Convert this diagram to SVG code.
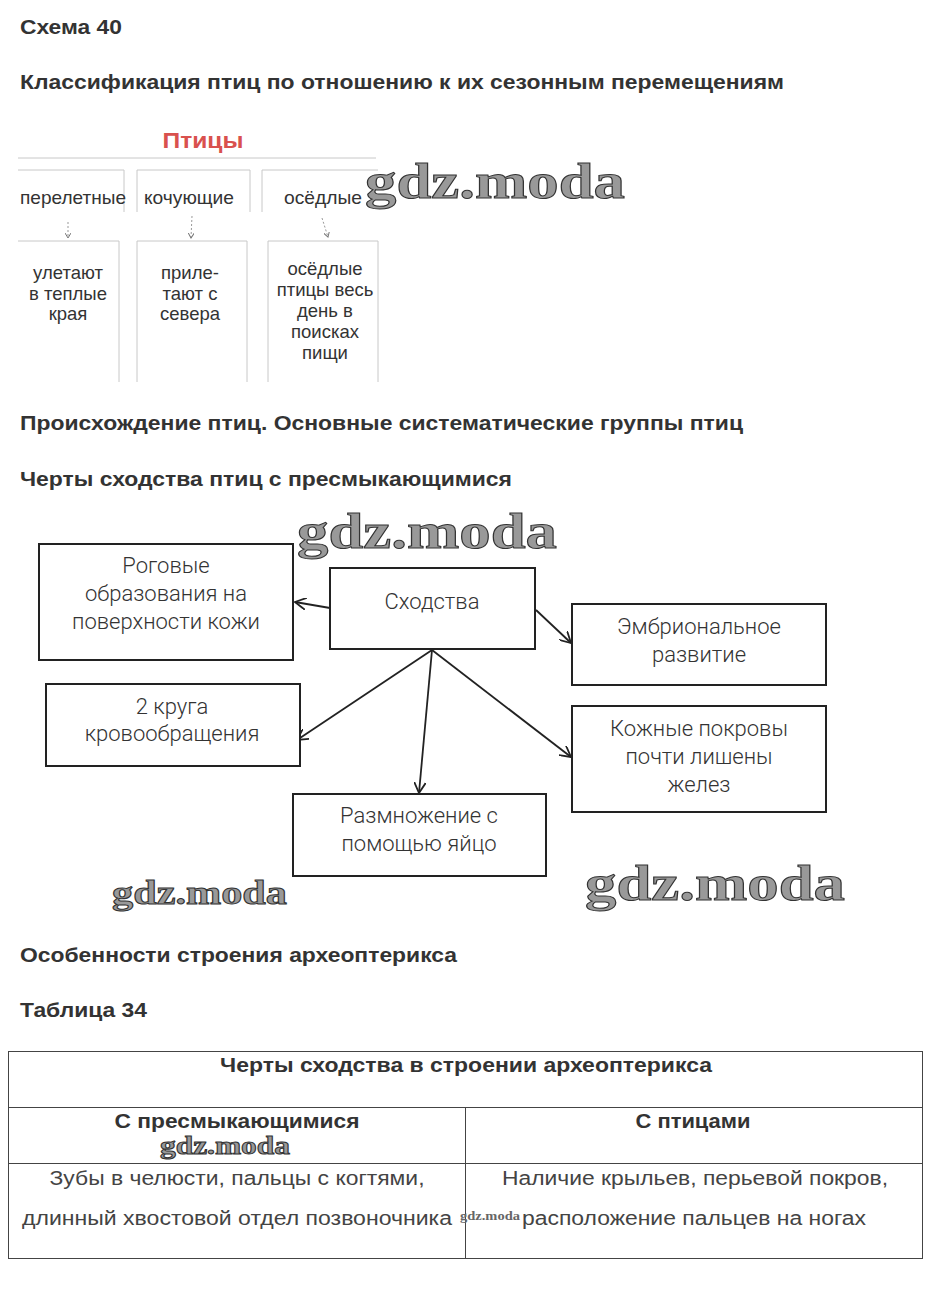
<svg xmlns="http://www.w3.org/2000/svg" width="933" height="1303" viewBox="0 0 933 1303">
<defs>
<style>
.h{font-family:"Liberation Sans",Arial,sans-serif;font-weight:bold;font-size:20px;fill:#333}
.t1{font-family:"Liberation Sans",Arial,sans-serif;font-size:18.5px;fill:#333;text-anchor:middle}
.t2{font-family:Roboto,"Liberation Sans",sans-serif;font-weight:300;font-size:22px;fill:#333;text-anchor:middle}
.t3{font-family:"Liberation Sans",Arial,sans-serif;font-size:20px;fill:#444;text-anchor:middle}
.tb{font-family:"Liberation Sans",Arial,sans-serif;font-weight:bold;font-size:20px;fill:#333;text-anchor:middle}
.gl{stroke:#c8c8c8;stroke-width:1;fill:none}
.box{fill:#fff;stroke:#222;stroke-width:2}
.con{stroke:#222;stroke-width:1.8;fill:none;marker-end:url(#ar)}
.dot{stroke:#999;stroke-width:1;stroke-dasharray:2 2;fill:none;marker-end:url(#sar)}
.tl{stroke:#444;stroke-width:1;fill:none}
.wm{font-family:"Liberation Serif","Times New Roman",serif;font-weight:bold;fill:#999;stroke:#333;stroke-width:1}
</style>
<marker id="ar" viewBox="0 0 12 12" refX="11" refY="6" markerWidth="12" markerHeight="12" markerUnits="userSpaceOnUse" orient="auto">
<path d="M0,0 L11,6 L0,12" fill="none" stroke="#222" stroke-width="1.8"/>
</marker>
<marker id="sar" viewBox="0 0 6 6" refX="5" refY="3" markerWidth="6" markerHeight="6" markerUnits="userSpaceOnUse" orient="auto">
<path d="M0,0 L5,3 L0,6" fill="none" stroke="#777" stroke-width="1"/>
</marker>
</defs>
<rect width="933" height="1303" fill="#fff"/>

<text class="h" x="20" y="34" textLength="102" lengthAdjust="spacingAndGlyphs">Схема 40</text>
<text class="h" x="20" y="89" textLength="764" lengthAdjust="spacingAndGlyphs">Классификация птиц по отношению к их сезонным перемещениям</text>

<g id="root-birds">
<text x="203" y="148" text-anchor="middle" font-family="Liberation Sans,Arial,sans-serif" font-weight="bold" font-size="22" fill="#d9514e" textLength="81" lengthAdjust="spacingAndGlyphs">Птицы</text>
<line class="gl" x1="18" y1="158" x2="376" y2="158"/>
</g>
<g id="migratory">
<path class="gl" d="M18,170 H124 V212"/>
<text class="t1" x="73" y="204" textLength="106" lengthAdjust="spacingAndGlyphs">перелетные</text>
</g>
<g id="nomadic">
<path class="gl" d="M137,212 V170 H250 V212"/>
<text class="t1" x="189" y="204" textLength="90" lengthAdjust="spacingAndGlyphs">кочующие</text>
</g>
<g id="sedentary">
<path class="gl" d="M262,212 V170 H378"/>
<text class="t1" x="323" y="204" textLength="78" lengthAdjust="spacingAndGlyphs">осёдлые</text>
</g>
<g id="migratory-desc">
<path class="gl" d="M18,241 H119 V382"/>
<text class="t1" x="68" y="279">улетают</text>
<text class="t1" x="68" y="300">в теплые</text>
<text class="t1" x="68" y="320">края</text>
</g>
<g id="nomadic-desc">
<path class="gl" d="M137,382 V241 H247 V382"/>
<text class="t1" x="190" y="279">приле-</text>
<text class="t1" x="190" y="300">тают с</text>
<text class="t1" x="190" y="320">севера</text>
</g>
<g id="sedentary-desc">
<path class="gl" d="M268,382 V241 H378 V382"/>
<text class="t1" x="325" y="275">осёдлые</text>
<text class="t1" x="325" y="296">птицы весь</text>
<text class="t1" x="325" y="317">день в</text>
<text class="t1" x="325" y="338">поисках</text>
<text class="t1" x="325" y="359">пищи</text>
</g>
<g id="top-connectors">
<line class="dot" x1="68" y1="222" x2="68" y2="238"/>
<line class="dot" x1="192" y1="216" x2="191" y2="238"/>
<line class="dot" x1="322" y1="218" x2="328" y2="237"/>
</g>

<text class="h" x="20" y="430" textLength="723" lengthAdjust="spacingAndGlyphs">Происхождение птиц. Основные систематические группы птиц</text>
<text class="h" x="20" y="486" textLength="492" lengthAdjust="spacingAndGlyphs">Черты сходства птиц с пресмыкающимися</text>

<g id="connectors">
<line class="con" x1="330" y1="608" x2="295" y2="602"/>
<line class="con" x1="536" y1="610" x2="571" y2="643"/>
<line class="con" x1="432" y1="650" x2="297" y2="740"/>
<line class="con" x1="432" y1="650" x2="419" y2="793"/>
<line class="con" x1="432" y1="650" x2="571" y2="757"/>
</g>
<g id="similarities">
<rect class="box" x="330" y="568" width="205" height="81"/>
<text class="t2" x="432" y="609">Сходства</text>
</g>
<g id="horny">
<rect class="box" x="39" y="544" width="254" height="116"/>
<text class="t2" x="166" y="573">Роговые</text>
<text class="t2" x="166" y="601">образования на</text>
<text class="t2" x="166" y="629">поверхности кожи</text>
</g>
<g id="embryo">
<rect class="box" x="572" y="604" width="254" height="81"/>
<text class="t2" x="699" y="634">Эмбриональное</text>
<text class="t2" x="699" y="662">развитие</text>
</g>
<g id="circulation">
<rect class="box" x="46" y="684" width="254" height="82"/>
<text class="t2" x="172" y="714">2 круга</text>
<text class="t2" x="172" y="741">кровообращения</text>
</g>
<g id="skin">
<rect class="box" x="572" y="706" width="254" height="106"/>
<text class="t2" x="699" y="736">Кожные покровы</text>
<text class="t2" x="699" y="764">почти лишены</text>
<text class="t2" x="699" y="792">желез</text>
</g>
<g id="egg">
<rect class="box" x="293" y="794" width="253" height="82"/>
<text class="t2" x="419" y="823">Размножение с</text>
<text class="t2" x="419" y="851">помощью яйцо</text>
</g>

<text class="h" x="20" y="962" textLength="437" lengthAdjust="spacingAndGlyphs">Особенности строения археоптерикса</text>
<text class="h" x="20" y="1017" textLength="127" lengthAdjust="spacingAndGlyphs">Таблица 34</text>

<g id="table">
<rect class="tl" x="8.5" y="1051.5" width="914" height="207"/>
<line class="tl" x1="8" y1="1107.5" x2="922" y2="1107.5"/>
<line class="tl" x1="8" y1="1163.5" x2="922" y2="1163.5"/>
<line class="tl" x1="465.5" y1="1107" x2="465.5" y2="1258"/>
<text class="tb" x="466" y="1072" textLength="492" lengthAdjust="spacingAndGlyphs">Черты сходства в строении археоптерикса</text>
<text class="tb" x="237" y="1128" textLength="245" lengthAdjust="spacingAndGlyphs">С пресмыкающимися</text>
<text class="tb" x="693" y="1128" textLength="115" lengthAdjust="spacingAndGlyphs">С птицами</text>
<text class="t3" x="237" y="1185" textLength="375" lengthAdjust="spacingAndGlyphs">Зубы в челюсти, пальцы с когтями,</text>
<text class="t3" x="237" y="1225" textLength="430" lengthAdjust="spacingAndGlyphs">длинный хвостовой отдел позвоночника</text>
<text class="t3" x="695" y="1185" textLength="386" lengthAdjust="spacingAndGlyphs">Наличие крыльев, перьевой покров,</text>
<text class="t3" x="694" y="1225" textLength="344" lengthAdjust="spacingAndGlyphs">расположение пальцев на ногах</text>
</g>

<g id="watermarks">
<text class="wm" x="365" y="198" font-size="50" textLength="260" lengthAdjust="spacingAndGlyphs">gdz.moda</text>
<text class="wm" x="297" y="548" font-size="50" textLength="260" lengthAdjust="spacingAndGlyphs">gdz.moda</text>
<text class="wm" x="112" y="904" font-size="34" textLength="175" lengthAdjust="spacingAndGlyphs">gdz.moda</text>
<text class="wm" x="585" y="900" font-size="50" textLength="260" lengthAdjust="spacingAndGlyphs">gdz.moda</text>
<text class="wm" x="160" y="1154" font-size="26" textLength="130" lengthAdjust="spacingAndGlyphs" stroke-width="0.6">gdz.moda</text>
<text x="460" y="1220" font-size="12" textLength="60" lengthAdjust="spacingAndGlyphs" font-family="Liberation Serif,serif" font-weight="bold" fill="#666">gdz.moda</text>
</g>
</svg>
